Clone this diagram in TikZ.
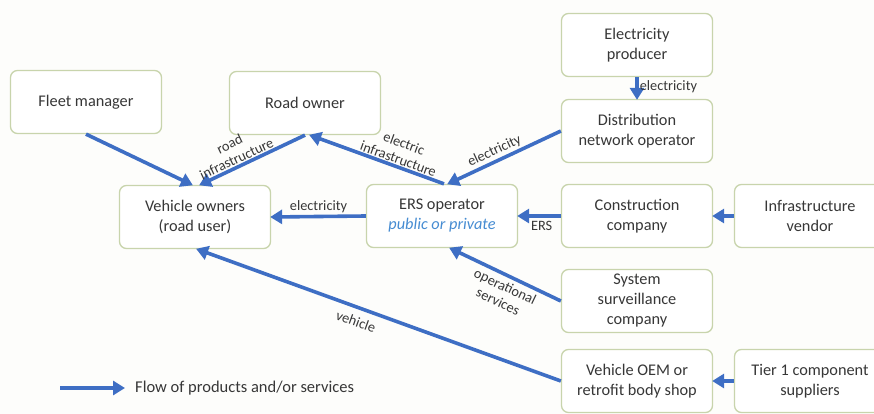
\documentclass[tikz,border=0pt]{standalone}
\usepackage{fontspec}
\setmainfont{Carlito}
\usetikzlibrary{arrows.meta}
\definecolor{flow}{RGB}{62,110,196}
\definecolor{boxline}{RGB}{200,212,172}
\definecolor{txt}{RGB}{55,55,55}
\definecolor{pubblue}{RGB}{70,140,210}
\definecolor{bg}{RGB}{253,253,251}
\tikzset{
  actor/.style={draw=boxline, line width=1.3pt, rounded corners=7pt, fill=white,
    minimum width=151pt, minimum height=63pt, align=center, text=txt,
    font=\fontsize{16.3}{20}\selectfont, inner sep=1pt},
  flowarrow/.style={draw=flow, line width=3.6pt, -{Triangle[length=12pt,width=14pt]}, shorten >=-1pt},
  lbl/.style={text=txt, font=\fontsize{14.3}{16.5}\selectfont, inner sep=1pt, align=center},
}
\begin{document}
\begin{tikzpicture}[x=1pt,y=-1pt]
\useasboundingbox (0,0) rectangle (874,414);
\fill[bg] (0,0) rectangle (874,414);
\node[actor] (fleet) at (86,102) {Fleet manager};
\node[actor] (road) at (305,103) {Road owner};
\node[actor] (vown) at (195,217) {Vehicle owners\\(road user)};
\node[actor] (ers) at (442,216) {ERS operator\\\textcolor{pubblue}{\itshape public or private}};
\node[actor] (eprod) at (637,45) {Electricity\\producer};
\node[actor] (dist) at (637,131) {Distribution\\network operator};
\node[actor] (constr) at (637,216) {Construction\\company};
\node[actor] (infra) at (810,216) {Infrastructure\\vendor};
\node[actor] (sys) at (637,301) {System\\surveillance\\company};
\node[actor] (oem) at (637,381) {Vehicle OEM or\\retrofit body shop};
\node[actor] (tier) at (810,381) {Tier 1 component\\suppliers};

\draw[flowarrow] (fleet.south) -- ([xshift=-3pt]vown.north);
\draw[flowarrow] (road.south) -- ([xshift=5pt]vown.north)
  node[lbl, sloped, above, pos=0.62] {road\\infrastructure};
\draw[flowarrow] ([xshift=2pt]ers.north) -- ([xshift=5pt]road.south)
  node[lbl, sloped, above, pos=0.36] {electric\\infrastructure};
\draw[flowarrow] (dist.west) -- ([xshift=6pt]ers.north)
  node[lbl, sloped, above, pos=0.55, yshift=1pt] {electricity};
\draw[flowarrow] (eprod.south) -- (dist.north)
  node[lbl, right, pos=0.45, xshift=0pt] {electricity};
\draw[flowarrow] (ers.west) -- (vown.west -| vown.east)
  node[lbl, above, pos=0.5, yshift=1pt] {electricity};
\draw[flowarrow] (constr.west) -- (ers.east)
  node[lbl, below, pos=0.45, yshift=-2pt] {ERS};
\draw[flowarrow] (infra.west) -- (constr.east);
\draw[flowarrow] (sys.west) -- ([xshift=8pt]ers.south)
  node[lbl, sloped, below, pos=0.46, yshift=-3pt] {operational\\services};
\draw[flowarrow] (oem.west) -- ([xshift=2pt]vown.south)
  node[lbl, sloped, below, pos=0.55, yshift=-6pt] {vehicle};
\draw[flowarrow] (tier.west) -- (oem.east);

\coordinate (legA) at (60,388);
\coordinate (legB) at (124,388);
\draw[flowarrow] (legA) -- (legB);
\node[lbl, anchor=west, font=\fontsize{16.5}{18}\selectfont] (legtext) at (134,388) {Flow of products and/or services};
\end{tikzpicture}
\end{document}
